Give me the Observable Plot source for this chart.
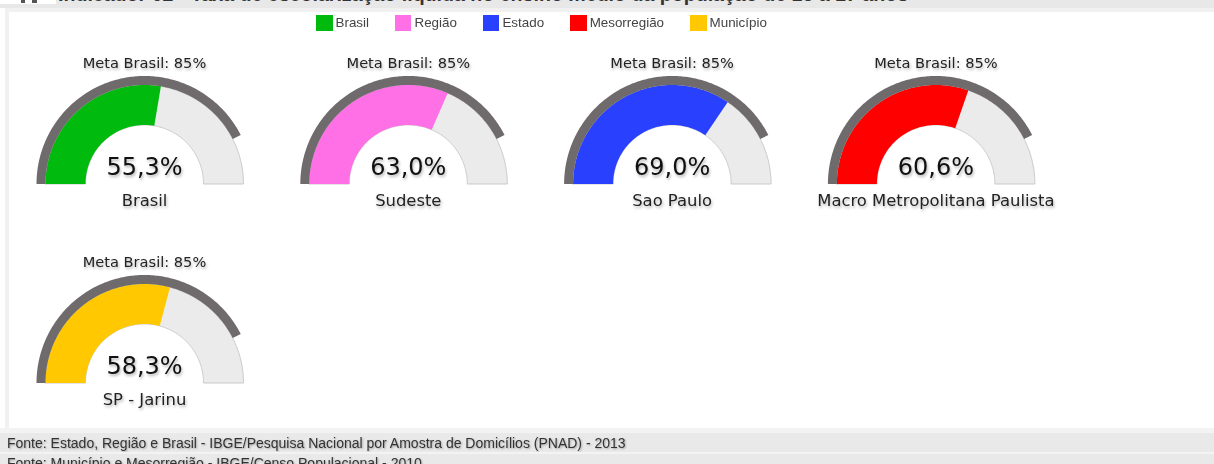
<!DOCTYPE html>
<html><head><meta charset="utf-8">
<script src="https://cdn.jsdelivr.net/npm/d3@7"></script>
<script src="https://cdn.jsdelivr.net/npm/@observablehq/plot@0.6"></script>
<style>
html,body{margin:0;padding:0;background:#fff;overflow:hidden}
#page{position:relative;width:1214px;height:464px;overflow:hidden;font-family:"Liberation Sans",Arial,sans-serif;filter:blur(.35px)}
#top{position:absolute;left:0;top:0;width:1214px;height:8px;background:#e8e8e8;overflow:hidden}
#title{position:absolute;left:58px;top:-18px;font:bold 19.6px "Liberation Sans",Arial,sans-serif;color:#333;white-space:nowrap;line-height:24px}
#patch{position:absolute;left:0;top:0;width:56px;height:4px;background:#fff;overflow:hidden}
#icon{position:absolute;left:21px;top:-1px;width:16px;height:4px;background:linear-gradient(90deg,#555 0 25%,transparent 25% 70%,#555 70% 100%)}
#topline{position:absolute;left:5px;top:8px;width:1209px;height:4px;background:#f1f1f1}
#leftline{position:absolute;left:5px;top:8px;width:4px;height:420px;background:#f1f1f1}
#legend{position:absolute;left:316px;top:15px;display:flex;gap:26px;font-size:13.4px;color:#444;line-height:16px}
#legend span.i{display:flex;gap:3px}
#legend b{display:block;width:16.5px;height:16px}
#chart{position:absolute;left:0;top:30px;line-height:0}
#chart svg text{text-shadow:1px 2px 3px rgba(0,0,0,.3)}
#foot{position:absolute;left:0;top:428px;width:1214px;height:36px;background:#f3f3f3}
.row{position:absolute;left:0;width:1214px;background:#e9e9e9;font-size:14px;color:#333;padding-left:7px;box-sizing:border-box;text-shadow:1px 1px 2px rgba(0,0,0,.3);white-space:nowrap;overflow:hidden}
</style></head>
<body><div id="page">
<div id="top"><div id="title">Indicador 02 - Taxa de escolarização líquida no ensino médio da população de 15 a 17 anos</div><div id="patch"><div id="icon"></div></div></div>
<div id="topline"></div><div id="leftline"></div>
<div id="legend"></div>
<div id="chart"></div>
<div id="foot">
<div class="row" style="top:5px;height:19px;line-height:20px">Fonte: Estado, Região e Brasil - IBGE/Pesquisa Nacional por Amostra de Domicílios (PNAD) - 2013</div>
<div class="row" style="top:26px;height:10px;line-height:19px">Fonte: Município e Mesorregião - IBGE/Censo Populacional - 2010</div>
</div>
</div>
<script>
const levels = ["Brasil", "Região", "Estado", "Mesorregião", "Município"];
const places = ["Brasil", "Sudeste", "Sao Paulo", "Macro Metropolitana Paulista", "SP - Jarinu"];
const values = [55.3, 63.0, 69.0, 60.6, 58.3];
const colors = ["#00bb0e", "#ff6fe6", "#2a40ff", "#ff0000", "#ffc800"];
const meta = 85;
const perRow = 4;

const gauges = places.map((place, i) => ({
  place, level: levels[i], value: values[i],
  col: i % perRow, row: Math.floor(i / perRow)
}));

// Ring band between two radii, from 0% to pct%, along a half circle.
function band(g, pct, r0, r1) {
  const step = 0.5, a = [];
  for (let p = 0; p < pct; p += step) a.push(p);
  a.push(pct);
  const at = (p, r) => {
    const t = Math.PI * (1 - p / 100);
    return {x: r * Math.cos(t), y: r * Math.sin(t), col: g.col, row: g.row, level: g.level, key: g.level};
  };
  const pts = [...a.map(p => at(p, r1)), ...a.slice().reverse().map(p => at(p, r0))];
  pts.push(pts[0]);
  return pts;
}
const [inner, outer, ringOuter] = [59, 99, 108];

const chart = Plot.plot({
  width: 1214, height: 398,
  marginLeft: 12.1, marginRight: 146.7, marginTop: 0, marginBottom: 0,
  x: {domain: [-131.9, 131.9], axis: null},
  y: {domain: [-45.5, 153.5], axis: null},
  fx: {domain: [0, 1, 2, 3], axis: null, padding: 0, round: false},
  fy: {domain: [0, 1], axis: null, padding: 0, round: false},
  color: {domain: levels, range: colors},
  style: {background: "transparent", overflow: "visible"},
  marks: [
    Plot.line(gauges.flatMap(g => band(g, 100, inner, outer)), {
      x: "x", y: "y", z: "key", fx: "col", fy: "row",
      fill: "#ebebeb", stroke: "#c9c9c9", strokeWidth: 1
    }),
    Plot.line(gauges.flatMap(g => band(g, g.value, inner, outer)), {
      x: "x", y: "y", z: "key", fx: "col", fy: "row",
      fill: "level", stroke: "none"
    }),
    Plot.line(gauges.flatMap(g => band(g, meta, outer, ringOuter)), {
      x: "x", y: "y", z: "key", fx: "col", fy: "row",
      fill: "#6f6b6c", stroke: "none"
    }),
    Plot.text(gauges, {
      fx: "col", fy: "row", text: () => `Meta Brasil: ${meta}%`,
      frameAnchor: "top", lineAnchor: "middle", dy: 33,
      fontFamily: "DejaVu Sans", fontSize: 14.6, fill: "#222"
    }),
    Plot.text(gauges, {
      fx: "col", fy: "row", text: d => d.value.toFixed(1).replace(".", ",") + "%",
      frameAnchor: "bottom", lineAnchor: "middle", dy: -62.5,
      fontFamily: "DejaVu Sans", fontSize: 24, fill: "#111"
    }),
    Plot.text(gauges, {
      fx: "col", fy: "row", text: "place",
      frameAnchor: "bottom", lineAnchor: "middle", dy: -29,
      fontFamily: "DejaVu Sans", fontSize: 16.4, fill: "#222"
    })
  ]
});
document.getElementById("chart").append(chart);

const legend = document.getElementById("legend");
levels.forEach((l, i) => {
  const s = document.createElement("span");
  s.className = "i";
  s.innerHTML = `<b style="background:${colors[i]}"></b><span>${l}</span>`;
  legend.append(s);
});
</script>
</body></html>
